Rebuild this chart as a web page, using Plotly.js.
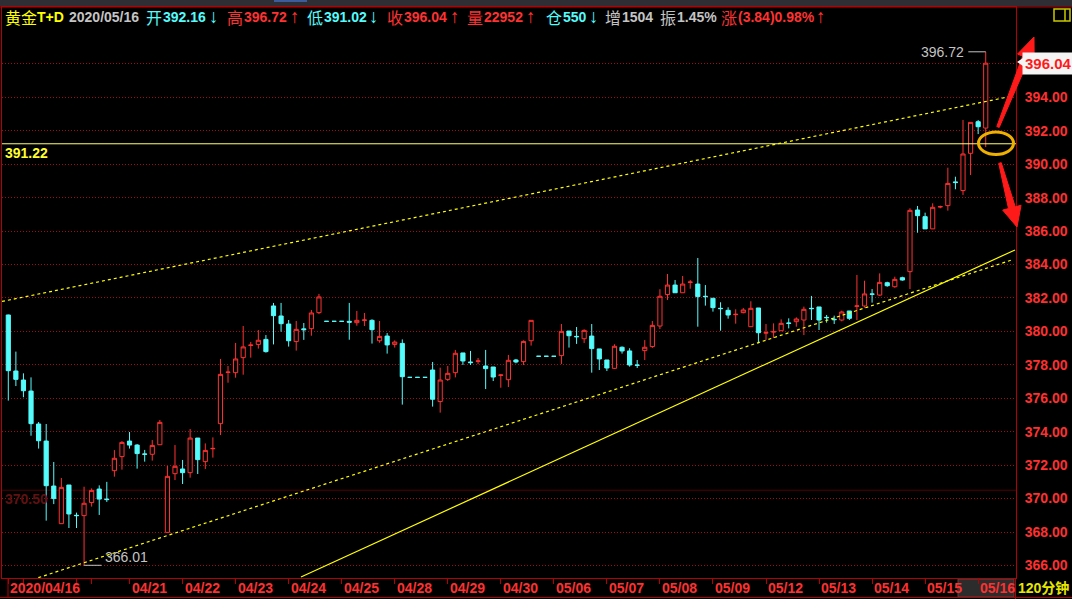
<!DOCTYPE html>
<html>
<head>
<meta charset="utf-8">
<script src="https://cdn.plot.ly/plotly-3.0.1.min.js"></script>
<style>
html,body{margin:0;padding:0;background:#000;}
#chart{width:1072px;height:599px;}
</style>
</head>
<body>
<div id="chart"></div>
<script>
// ---- 120-minute candles, Au(T+D), 2020/04/16 - 2020/05/16 ----
const openP = [380.98,377.63,377.09,376.43,374.46,373.44,370.75,368.5,370.81,369.0,
368.98,369.76,370.57,369.97,371.67,372.51,373.44,373.2,372.67,372.65,
373.22,367.98,371.49,371.77,371.55,373.62,372.21,372.98,374.48,377.55,
377.53,378.43,379.16,379.22,379.52,381.52,380.92,380.44,379.39,380.15,
380.16,381.12,380.6,380.6,380.6,380.6,380.52,380.66,380.66,379.44,
379.72,379.22,379.28,377.25,377.25,377.25,377.69,375.8,377.13,377.53,
378.71,378.17,378.21,377.93,377.87,377.37,377.11,378.29,378.19,379.44,
378.51,378.51,378.51,378.55,380.02,379.7,379.56,379.72,378.95,378.29,
377.79,379.05,378.83,377.99,378.85,379.09,380.32,382.2,382.77,382.31,
382.93,382.83,382.1,381.98,381.38,381.26,381.0,381.12,380.28,381.4,
379.9,379.96,380.04,380.5,380.58,380.68,381.38,381.46,380.84,380.72,
380.68,381.22,381.5,381.52,382.24,382.17,382.91,382.67,383.21,383.57,
387.26,386.86,386.13,387.44,387.52,388.94,388.42,390.65,392.54,392.16];
const highP = [381.0,378.79,377.49,377.25,374.58,374.46,372.19,371.23,370.81,369.16,
370.71,370.61,370.79,371.0,372.9,373.44,373.98,373.26,372.91,373.5,
374.7,371.95,373.2,372.31,374.16,373.62,373.3,373.66,378.35,377.93,
379.31,380.32,379.37,380.08,379.78,381.7,381.7,380.68,380.62,380.5,
381.28,382.24,380.6,380.6,380.6,381.7,381.22,381.1,380.72,380.62,
379.9,379.46,379.52,377.25,377.25,377.25,378.17,377.83,377.93,378.89,
378.71,378.83,378.41,378.89,377.87,377.43,378.59,378.35,379.46,380.66,
378.51,378.51,378.51,380.44,380.02,380.26,380.12,380.44,378.95,378.29,
379.23,379.1,378.99,378.29,379.48,380.62,382.52,383.43,383.07,383.31,
383.07,384.39,382.77,381.98,381.74,381.44,381.32,381.4,381.8,381.4,
380.44,380.48,380.72,380.78,380.84,381.48,382.12,381.46,380.98,380.94,
381.24,381.22,383.37,383.03,382.53,383.47,382.97,383.27,383.27,387.36,
387.5,387.1,387.66,387.52,389.79,389.25,392.64,392.5,392.64,396.72];
const lowP = [375.86,376.73,376.06,373.76,372.99,368.68,369.67,368.5,368.24,368.24,
366.01,369.52,369.02,369.8,371.31,371.73,372.99,371.79,372.21,372.27,
373.22,367.98,371.11,370.87,371.25,371.47,371.77,372.45,373.8,376.93,
377.23,377.41,378.43,378.97,378.73,379.22,379.98,379.09,378.85,379.49,
379.74,381.04,380.6,380.6,380.6,379.5,380.34,380.32,379.27,379.32,
378.67,379.03,375.62,377.25,377.25,377.25,375.5,375.14,377.03,377.25,
377.99,377.99,378.05,376.55,377.03,376.63,376.67,378.09,377.99,379.15,
378.51,378.51,378.51,378.05,379.03,379.25,379.3,377.53,377.69,377.63,
377.75,378.67,377.89,377.81,378.29,379.01,380.14,381.88,382.31,382.31,
382.55,380.28,381.54,381.18,380.04,380.76,380.46,381.08,380.28,379.29,
379.49,379.6,380.04,380.18,380.28,379.78,380.68,380.08,380.52,380.44,
380.6,380.68,380.68,381.42,381.72,382.12,382.67,382.61,383.03,382.53,
385.9,386.13,386.13,387.36,387.22,388.5,388.16,389.35,391.8,391.02];
const closeP = [377.65,377.13,376.45,374.48,373.46,370.77,370.0,370.67,369.08,368.98,
369.72,370.49,369.97,369.94,372.41,373.36,373.2,372.69,372.65,373.18,
374.56,371.33,371.93,371.55,373.62,372.33,372.88,373.0,377.43,377.56,
378.35,379.07,379.18,379.47,378.79,380.94,380.46,379.44,380.12,380.1,
381.1,382.06,380.6,380.6,380.6,380.55,380.66,380.68,380.1,379.7,
379.19,379.36,377.29,377.25,377.25,377.25,375.94,377.09,377.49,378.69,
378.23,378.13,378.23,377.77,377.27,377.39,378.27,378.17,379.4,380.66,
378.51,378.51,378.51,380.0,379.74,379.68,380.06,378.97,378.35,377.81,
379.11,378.83,377.99,377.97,379.05,380.36,382.1,382.77,382.31,382.83,
382.95,382.08,382.08,381.42,381.36,380.98,381.02,381.28,381.38,379.92,
379.92,379.98,380.48,380.48,380.74,381.32,381.36,380.68,380.82,380.7,
381.16,380.78,381.52,382.24,382.22,382.93,382.73,383.11,383.07,387.24,
386.92,386.13,387.42,387.46,388.85,388.9,390.61,392.5,392.24,396.04];

const dateLabels = ['2020/04/16','04/21','04/22','04/23','04/24','04/25','04/28','04/29','04/30',
                    '05/06','05/07','05/08','05/09','05/12','05/13','05/14','05/15','05/16'];
const dateIdx = [0,16,23,30,37,44,51,58,65,72,79,86,93,100,107,114,121,128];
const extraTickIdx = [2,9,11];
const yTicks = [366,368,370,372,374,376,378,380,382,384,386,388,390,392,394,396];

const lastClose = 396.04, markHigh = 396.72, markLow = 366.01, hLine = 391.22, refLine = 370.50;

// trend lines (index, price)
const trendSolid = [[38.63,365.31],[132.86,384.87]];
const trendLow = [[3.96,365.27],[132.43,384.27]];
const trendUp = [[-0.83,381.79],[132.6,394.08]];

const idx = openP.map((_, i) => i);

// pixel -> paper helpers (layout geometry)
const W = 1072, H = 599, L = 2, R = 56, T = 7, B = 21;
const PW = W - L - R, PH = H - T - B;
const px = x => (x - L) / PW;
const py = y => (H - B - y) / PH;

const RED = '#ff3232', CYAN = '#54fcfc', GRAY = '#c4c4c4', YEL = '#ffff00', FRAME = '#b40000';

const trace = {
  type: 'candlestick',
  x: idx, open: openP, high: highP, low: lowP, close: closeP,
  increasing: {line: {color: RED, width: 1}, fillcolor: '#000000'},
  decreasing: {line: {color: CYAN, width: 1}, fillcolor: CYAN},
  whiskerwidth: 0,
  hoverinfo: 'skip'
};

const shapes = [];
const annotations = [];

// top gray band + frame lines
shapes.push({type:'rect', xref:'paper', yref:'paper', x0:px(0), x1:px(W), y0:py(0), y1:py(6.5), fillcolor:'#2e2e34', line:{width:0}, layer:'below'});
shapes.push({type:'rect', xref:'paper', yref:'paper', x0:px(274), x1:px(307), y0:py(0), y1:py(2), fillcolor:'#3c5c9c', line:{width:0}});
shapes.push({type:'line', xref:'paper', yref:'paper', x0:px(0), x1:px(W), y0:py(7), y1:py(7), line:{color:FRAME, width:1}});
shapes.push({type:'line', xref:'paper', yref:'paper', x0:px(0), x1:px(W), y0:py(597.5), y1:py(597.5), line:{color:FRAME, width:1}});
shapes.push({type:'line', xref:'paper', yref:'paper', x0:px(1015.5), x1:px(1015.5), y0:py(578), y1:py(599), line:{color:FRAME, width:1}});
shapes.push({type:'line', xref:'paper', yref:'paper', x0:px(8), x1:px(8), y0:py(578), y1:py(597), line:{color:FRAME, width:1}});

// yellow box icon
shapes.push({type:'rect', xref:'paper', yref:'paper', x0:px(1054), x1:px(1070), y0:py(21), y1:py(9), line:{color:'#c8c800', width:1.5}});
shapes.push({type:'line', xref:'paper', yref:'paper', x0:px(1065), x1:px(1065), y0:py(21), y1:py(9), line:{color:'#c8c800', width:1.5}});

// 05/16 highlighted tab
shapes.push({type:'rect', xref:'paper', yref:'paper', x0:px(958), x1:px(1014), y0:py(597), y1:py(579), fillcolor:'#2c2c2c', line:{color:'#4a4a4a', width:1}, layer:'below'});

// horizontal reference lines
shapes.push({type:'line', xref:'paper', yref:'y', x0:0, x1:1, y0:refLine, y1:refLine, line:{color:'#520000', width:1}, layer:'below'});
shapes.push({type:'line', xref:'paper', yref:'y', x0:0, x1:1, y0:hLine, y1:hLine, line:{color:'#ffff70', width:1}});

// trend lines
shapes.push({type:'line', xref:'x', yref:'y', x0:trendSolid[0][0], y0:trendSolid[0][1], x1:trendSolid[1][0], y1:trendSolid[1][1], line:{color:YEL, width:1.2}});
shapes.push({type:'line', xref:'x', yref:'y', x0:trendLow[0][0], y0:trendLow[0][1], x1:trendLow[1][0], y1:trendLow[1][1], line:{color:YEL, width:1.2, dash:'3px,3px'}});
shapes.push({type:'line', xref:'x', yref:'y', x0:trendUp[0][0], y0:trendUp[0][1], x1:trendUp[1][0], y1:trendUp[1][1], line:{color:YEL, width:1.2, dash:'3px,3px'}});

// high / low markers
const hiI = highP.indexOf(Math.max(...highP));
const loI = lowP.indexOf(Math.min(...lowP));
shapes.push({type:'line', xref:'x', yref:'y', x0:hiI - 2.3, x1:hiI, y0:markHigh, y1:markHigh, line:{color:GRAY, width:1}});
shapes.push({type:'line', xref:'x', yref:'y', x0:loI, x1:loI + 2.3, y0:markLow, y1:markLow, line:{color:GRAY, width:1}});
annotations.push({xref:'x', yref:'y', x:hiI - 2.6, y:markHigh, text:markHigh.toFixed(2), showarrow:false, xanchor:'right', yanchor:'middle',
  font:{family:'Liberation Sans, Arial, sans-serif', size:14, color:GRAY}});
annotations.push({xref:'x', yref:'y', x:loI + 2.5, y:markLow, yshift:8, text:markLow.toFixed(2), showarrow:false, xanchor:'left', yanchor:'middle',
  font:{family:'Liberation Sans, Arial, sans-serif', size:14, color:GRAY}});

// ellipse + red arrows
shapes.push({type:'circle', xref:'paper', yref:'paper', x0:px(978.5), x1:px(1013.5), y0:py(154.5), y1:py(132), line:{color:'#f0b000', width:3}});
function arrowPath(tx, ty, hx, hy, tw, sw, hw, hl) {
  const dx = hx - tx, dy = hy - ty, len = Math.hypot(dx, dy);
  const ux = dx / len, uy = dy / len, nx = -uy, ny = ux;
  const cx = hx - ux * hl, cy = hy - uy * hl;
  const pts = [
    [tx - nx * tw, ty - ny * tw], [cx - nx * sw, cy - ny * sw], [cx - nx * hw, cy - ny * hw],
    [hx, hy], [cx + nx * hw, cy + ny * hw], [cx + nx * sw, cy + ny * sw], [tx + nx * tw, ty + ny * tw]
  ];
  return 'M' + pts.map(p => px(p[0]) + ',' + py(p[1])).join(' L') + ' Z';
}
shapes.push({type:'path', xref:'paper', yref:'paper', path:arrowPath(998, 127, 1034, 37, 1.3, 3.5, 9, 22), fillcolor:'#ff1a1a', line:{color:'#ff1a1a', width:1}});
shapes.push({type:'path', xref:'paper', yref:'paper', path:arrowPath(1000, 163, 1017, 227, 1.3, 3.5, 9.5, 20), fillcolor:'#ff1a1a', line:{color:'#ff1a1a', width:1}});

// last price tag
shapes.push({type:'path', xref:'paper', yref:'paper',
  path:'M' + px(1017) + ',' + py(62) + ' L' + px(1023) + ',' + py(58) + ' L' + px(1023) + ',' + py(66) + ' Z',
  fillcolor:'#f4f4f4', line:{width:0}});
annotations.push({xref:'paper', yref:'y', x:px(1022), y:lastClose, text:lastClose.toFixed(2), showarrow:false, xanchor:'left', yanchor:'middle',
  bgcolor:'#f4f4f4', borderpad:2, font:{family:'Liberation Sans, Arial, sans-serif', size:15, color:'#ff1a1a', weight:'bold'}});

// left labels
annotations.push({xref:'paper', yref:'y', x:px(3), y:hLine, yshift:-9, text:hLine.toFixed(2), showarrow:false, xanchor:'left', yanchor:'middle',
  font:{family:'Liberation Sans, Arial, sans-serif', size:14, color:'#ffff30', weight:'bold'}});
annotations.push({xref:'paper', yref:'y', x:px(3), y:refLine, yshift:-9, text:refLine.toFixed(2), showarrow:false, xanchor:'left', yanchor:'middle',
  font:{family:'Liberation Sans, Arial, sans-serif', size:14, color:'#5e1212', weight:'bold'}});

// x date labels
dateLabels.forEach((t, i) => {
  annotations.push({xref:'x', yref:'paper', x:dateIdx[i], y:py(588), text:t, showarrow:false, xanchor:'left', yanchor:'middle', xshift:0,
    font:{family:'Liberation Sans, Arial, sans-serif', size:14, color:'#ff3030', weight:'bold'}});
});
annotations.push({xref:'paper', yref:'paper', x:px(1016), y:py(588), text:'120分钟', showarrow:false, xanchor:'left', yanchor:'middle',
  font:{family:'Liberation Sans, Noto Sans CJK SC, sans-serif', size:14, color:'#e6e600', weight:'bold'}});

// header
const headerText = ['黄金','T+D','2020/05/16','开','392.16','↓','高','396.72','↑','低','391.02','↓','收','396.04','↑','量','22952','↑','仓','550','↓','增','1504','振','1.45%','涨','(3.84)0.98%','↑'];
const headerColor = [YEL,YEL,GRAY,CYAN,CYAN,CYAN,RED,RED,RED,CYAN,CYAN,CYAN,RED,RED,RED,RED,RED,RED,CYAN,CYAN,CYAN,GRAY,GRAY,GRAY,GRAY,RED,RED,RED];
const headerX = [3,35,67,144,161,207,225,242,288,305,322,367,385,402,448,465,482,524,544,561,587,603,620,658,675,719,736,814];
headerText.forEach((t, i) => {
  const cjk = /[\u4e00-\u9fff]/.test(t);
  const arrow = /[↑↓]/.test(t);
  annotations.push({xref:'paper', yref:'paper', x:px(headerX[i]), y:py(arrow ? 16 : 17), text:t, showarrow:false, xanchor:'left', yanchor:'middle',
    font:{family: cjk ? 'Noto Sans CJK SC, sans-serif' : 'Liberation Sans, Arial, sans-serif',
          size: cjk ? 16 : (arrow ? 19 : 14), color:headerColor[i], weight: cjk || arrow ? 'normal' : 'bold'}});
});

const layout = {
  width: W, height: H,
  margin: {l:L, r:R, t:T, b:B, pad:0},
  paper_bgcolor: '#000000', plot_bgcolor: '#000000',
  showlegend: false,
  boxgap: 0.45, boxgroupgap: 0,
  xaxis: {
    type: 'linear', range: [(L - 8.3) / 7.577, (W - R - 8.3) / 7.577],
    rangeslider: {visible: false},
    showgrid: false, zeroline: false,
    tickvals: dateIdx.concat(extraTickIdx), ticks: 'outside', ticklen: 5, tickcolor: FRAME, tickwidth: 1,
    showticklabels: false,
    showline: true, linecolor: FRAME, linewidth: 1, mirror: true, fixedrange: true
  },
  yaxis: {
    side: 'right', range: [365.25, 399.40],
    tickvals: yTicks, ticktext: yTicks.map(v => v === 396 ? '' : v.toFixed(2)),
    ticks: '', ticklabelstandoff: 5,
    tickfont: {family:'Liberation Sans, Arial, sans-serif', size:14, color:'#ff3030', weight:'bold'},
    showgrid: true, gridcolor: '#a01010', gridwidth: 1, griddash: '1px,2px',
    zeroline: false, showline: true, linecolor: FRAME, linewidth: 1, mirror: true, fixedrange: true
  },
  shapes: shapes,
  annotations: annotations
};

Plotly.newPlot('chart', [trace], layout, {staticPlot: true, displayModeBar: false});
</script>
</body>
</html>
